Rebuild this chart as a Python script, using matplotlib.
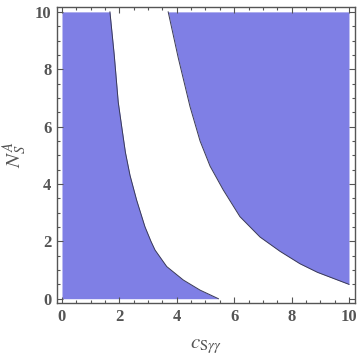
import matplotlib
matplotlib.use("Agg")
import matplotlib.pyplot as plt
from matplotlib.ticker import MultipleLocator

# boundary of the left allowed region (c read at given N)
left_n = [10, 8.5, 6.85, 6.0, 5.1, 4.3, 3.44, 2.51, 2.0, 1.70, 1.12, 0.65, 0.30, 0]
left_c = [1.67, 1.82, 1.96, 2.08, 2.21, 2.37, 2.60, 2.89, 3.10, 3.24, 3.65, 4.23, 4.81, 5.45]

# boundary of the right allowed region
right_c = [3.70, 4.05, 4.46, 4.81, 5.16, 5.62, 6.20, 6.90, 7.60, 8.29, 8.90, 10.0]
right_n = [10, 8.4, 6.7, 5.5, 4.62, 3.79, 2.86, 2.15, 1.65, 1.22, 0.92, 0.50]

fill_col = "#7f7fe5"
edge_col = "#3a3a55"
txt_col = "#555555"

plt.rcParams["mathtext.fontset"] = "stix"

fig = plt.figure(figsize=(3.6, 3.64), dpi=100)
ax = fig.add_axes([57 / 360, 61 / 364, 298 / 360, 296 / 364])

ax.fill_betweenx(left_n, 0, left_c, color=fill_col, lw=0)
ax.plot(left_c, left_n, color=edge_col, lw=0.7)
ax.fill_between(right_c, right_n, 10, color=fill_col, lw=0)
ax.plot(right_c, right_n, color=edge_col, lw=0.7)

ax.set_xlim(-0.174, 10.21)
ax.set_ylim(-0.15, 10.17)

for s in ax.spines.values():
    s.set_color(txt_col)
    s.set_linewidth(1.0)

ax.xaxis.set_major_locator(MultipleLocator(2))
ax.yaxis.set_major_locator(MultipleLocator(2))
ax.xaxis.set_minor_locator(MultipleLocator(0.5))
ax.yaxis.set_minor_locator(MultipleLocator(0.5))
ax.tick_params(which="both", direction="in", top=True, right=True, color=txt_col, width=0.8)
ax.tick_params(which="major", length=4.5, pad=4)
ax.tick_params(which="minor", length=2.5)
for lab in ax.get_xticklabels() + ax.get_yticklabels():
    lab.set_fontfamily("Liberation Serif")
    lab.set_fontweight("bold")
    lab.set_fontsize(12)
    lab.set_color(txt_col)

ax.set_xlabel(r"$c_{\mathrm{S}\gamma\gamma}$", fontsize=15, color=txt_col, labelpad=8)
ax.set_ylabel(r"$N_S^A$", fontsize=15, color=txt_col, labelpad=4)

fig.savefig("out.png", dpi=100)
